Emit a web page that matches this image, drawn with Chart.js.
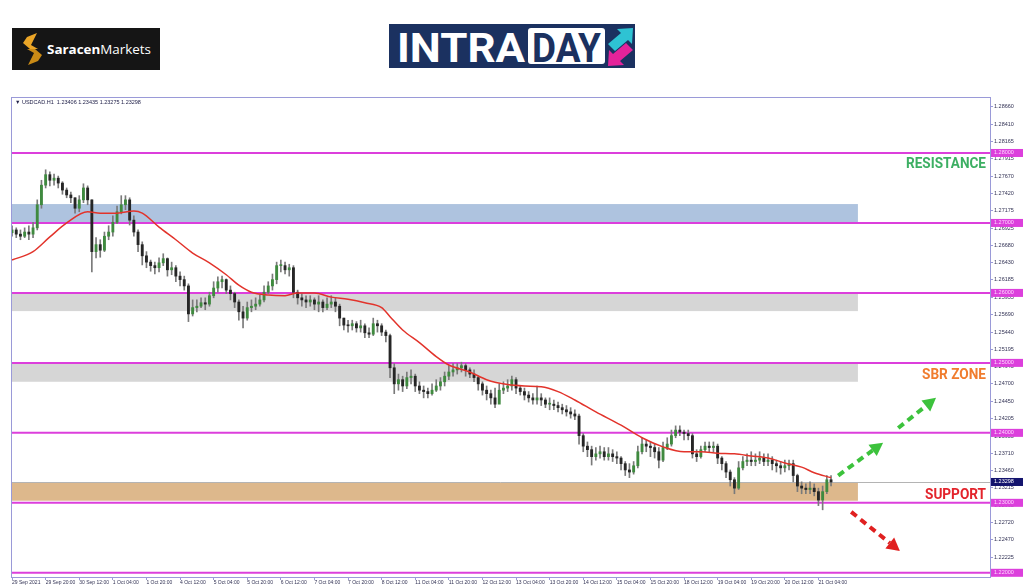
<!DOCTYPE html>
<html>
<head>
<meta charset="utf-8">
<script src="https://cdn.jsdelivr.net/npm/chart.js@4.4.0/dist/chart.umd.min.js"></script>
<style>
html, body { margin: 0; padding: 0; background: #fff; }
#wrap { position: relative; width: 1024px; height: 587px; overflow: hidden; }
#c { position: absolute; left: 0; top: 0; }
.logo { position: absolute; }
</style>
</head>
<body>
<div id="wrap">
<canvas id="c" width="1024" height="587"></canvas>

<svg class="logo" style="left:12px;top:28px" width="148" height="42" viewBox="0 0 148 42">
  <rect width="148" height="42" fill="#151515"/>
  <polygon points="15,9 25,5 19,17 26,21 18,21 11,15" fill="#eaa527"/>
  <polygon points="26,33 16,37 22,25 15,21 23,21 30,27" fill="#c98a16"/>
  <text x="35" y="26" fill="#fff" font-family="Open Sans" font-size="13" textLength="104" lengthAdjust="spacingAndGlyphs"><tspan font-weight="bold">Saracen</tspan>Markets</text>
</svg>

<svg class="logo" style="left:389px;top:24px" width="246" height="44" viewBox="0 0 246 44">
  <rect width="246" height="44" fill="#1b3160"/>
  <text x="8" y="38" fill="#fff" font-family="Roboto" font-weight="bold" font-size="40" textLength="128" lengthAdjust="spacingAndGlyphs">INTRA</text>
  <rect x="139" y="4" width="77" height="36" rx="3" fill="#fff"/>
  <text x="143" y="38" fill="#1b3160" font-family="Roboto" font-weight="bold" font-size="40" textLength="69" lengthAdjust="spacingAndGlyphs">DAY</text>
  <polygon points="219,20 232,9 228,5 244,4 243,20 239,16 226,27" fill="#2ec3d3"/>
  <polygon points="244,26 231,37 235,41 219,42 220,26 224,30 237,19" fill="#e3239a"/>
</svg>
</div>

<script>
// x labels, one every 8 bars (2h bars)
const xTickLabels = ['29 Sep 2021','29 Sep 20:00','30 Sep 12:00','1 Oct 04:00','1 Oct 20:00','4 Oct 12:00',
  '5 Oct 04:00','5 Oct 20:00','6 Oct 12:00','7 Oct 04:00','7 Oct 20:00','8 Oct 12:00','11 Oct 04:00',
  '11 Oct 20:00','12 Oct 12:00','13 Oct 04:00','13 Oct 20:00','14 Oct 12:00','15 Oct 04:00','15 Oct 20:00',
  '18 Oct 12:00','19 Oct 04:00','19 Oct 20:00','20 Oct 12:00','21 Oct 04:00'];

const yTicks = [1.28660,1.28410,1.28165,1.27915,1.27670,1.27420,1.27175,1.26925,1.26680,1.26430,1.26185,
  1.25935,1.25690,1.25440,1.25195,1.24945,1.24700,1.24450,1.24205,1.23955,1.23710,1.23460,1.23215,
  1.22965,1.22720,1.22470,1.22225];

const firstOpen = 1.2686;
const closes = [
  1.2690,1.2684,1.2681,1.2687,1.2684,1.2693,1.2726,1.2754,1.2769,1.2761,
  1.2764,1.2757,1.2747,1.2740,1.2736,1.2721,1.2733,1.2750,1.2733,1.2659,
  1.2669,1.2661,1.2681,1.2687,1.2701,1.2716,1.2726,1.2733,1.2704,1.2687,
  1.2669,1.2653,1.2644,1.2639,1.2636,1.2643,1.2649,1.2633,1.2636,1.2624,
  1.2619,1.2610,1.2570,1.2579,1.2581,1.2586,1.2584,1.2596,1.2607,1.2616,
  1.2619,1.2604,1.2599,1.2587,1.2573,1.2564,1.2579,1.2581,1.2584,1.2590,
  1.2601,1.2610,1.2619,1.2639,1.2639,1.2633,1.2636,1.2601,1.2593,1.2590,
  1.2587,1.2590,1.2584,1.2587,1.2579,1.2584,1.2587,1.2581,1.2564,1.2554,
  1.2553,1.2556,1.2550,1.2553,1.2543,1.2541,1.2556,1.2553,1.2544,1.2539,
  1.2493,1.2470,1.2476,1.2467,1.2479,1.2481,1.2467,1.2461,1.2459,1.2456,
  1.2461,1.2467,1.2473,1.2481,1.2487,1.2490,1.2493,1.2496,1.2490,1.2484,
  1.2479,1.2470,1.2461,1.2456,1.2450,1.2441,1.2461,1.2464,1.2467,1.2476,
  1.2464,1.2459,1.2454,1.2450,1.2447,1.2450,1.2447,1.2441,1.2441,1.2439,
  1.2436,1.2433,1.2430,1.2427,1.2424,1.2396,1.2381,1.2376,1.2366,1.2370,
  1.2373,1.2366,1.2370,1.2366,1.2364,1.2356,1.2347,1.2344,1.2353,1.2373,
  1.2384,1.2381,1.2379,1.2373,1.2361,1.2379,1.2384,1.2396,1.2404,1.2401,
  1.2399,1.2396,1.2370,1.2366,1.2376,1.2381,1.2379,1.2381,1.2364,1.2356,
  1.2344,1.2333,1.2321,1.2350,1.2359,1.2361,1.2359,1.2361,1.2364,1.2359,
  1.2361,1.2356,1.2353,1.2350,1.2353,1.2356,1.2339,1.2324,1.2321,1.2319,
  1.2321,1.2316,1.2304,1.2316,1.2333,1.23298];
const highs = [
  1.2696,1.2693,1.2690,1.2693,1.2696,1.2701,1.2733,1.2761,1.2776,1.2773,
  1.2770,1.2767,1.2759,1.2750,1.2744,1.2736,1.2739,1.2756,1.2753,1.2733,
  1.2679,1.2676,1.2687,1.2696,1.2710,1.2724,1.2739,1.2739,1.2736,1.2710,
  1.2690,1.2673,1.2659,1.2647,1.2644,1.2650,1.2656,1.2650,1.2644,1.2639,
  1.2630,1.2624,1.2613,1.2590,1.2590,1.2593,1.2593,1.2601,1.2616,1.2623,
  1.2624,1.2620,1.2610,1.2601,1.2590,1.2581,1.2587,1.2590,1.2593,1.2597,
  1.2610,1.2616,1.2627,1.2644,1.2647,1.2644,1.2641,1.2639,1.2604,1.2599,
  1.2596,1.2596,1.2593,1.2596,1.2590,1.2593,1.2596,1.2593,1.2584,1.2564,
  1.2561,1.2561,1.2559,1.2561,1.2556,1.2550,1.2564,1.2561,1.2556,1.2547,
  1.2541,1.2499,1.2484,1.2481,1.2487,1.2490,1.2484,1.2473,1.2467,1.2464,
  1.2470,1.2476,1.2479,1.2487,1.2496,1.2499,1.2499,1.2501,1.2499,1.2493,
  1.2490,1.2481,1.2473,1.2467,1.2461,1.2464,1.2470,1.2473,1.2476,1.2481,
  1.2479,1.2467,1.2464,1.2459,1.2456,1.2467,1.2456,1.2450,1.2450,1.2447,
  1.2444,1.2441,1.2439,1.2436,1.2433,1.2427,1.2399,1.2387,1.2381,1.2379,
  1.2381,1.2379,1.2379,1.2376,1.2373,1.2366,1.2359,1.2356,1.2359,1.2381,
  1.2393,1.2390,1.2387,1.2384,1.2379,1.2387,1.2393,1.2404,1.2410,1.2410,
  1.2404,1.2404,1.2399,1.2376,1.2381,1.2387,1.2387,1.2387,1.2384,1.2366,
  1.2359,1.2347,1.2336,1.2359,1.2366,1.2370,1.2373,1.2370,1.2373,1.2370,
  1.2370,1.2366,1.2361,1.2359,1.2361,1.2361,1.2361,1.2341,1.2330,1.2327,
  1.2330,1.2327,1.2321,1.2324,1.2339,1.2339];
const lows = [
  1.2681,1.2679,1.2676,1.2679,1.2676,1.2679,1.2690,1.2721,1.2750,1.2753,
  1.2754,1.2750,1.2741,1.2736,1.2729,1.2714,1.2716,1.2729,1.2726,1.2630,
  1.2650,1.2651,1.2659,1.2676,1.2681,1.2699,1.2713,1.2719,1.2697,1.2681,
  1.2659,1.2640,1.2636,1.2631,1.2627,1.2630,1.2639,1.2624,1.2626,1.2616,
  1.2610,1.2604,1.2559,1.2567,1.2573,1.2579,1.2576,1.2581,1.2593,1.2601,
  1.2607,1.2599,1.2590,1.2579,1.2561,1.2550,1.2561,1.2573,1.2576,1.2581,
  1.2587,1.2599,1.2604,1.2613,1.2630,1.2627,1.2624,1.2593,1.2584,1.2581,
  1.2579,1.2581,1.2576,1.2573,1.2573,1.2576,1.2579,1.2573,1.2553,1.2547,
  1.2544,1.2547,1.2544,1.2544,1.2536,1.2536,1.2539,1.2544,1.2539,1.2530,
  1.2479,1.2456,1.2461,1.2459,1.2463,1.2470,1.2459,1.2456,1.2450,1.2450,
  1.2454,1.2459,1.2461,1.2467,1.2476,1.2481,1.2484,1.2487,1.2481,1.2479,
  1.2473,1.2461,1.2454,1.2447,1.2441,1.2436,1.2444,1.2456,1.2459,1.2461,
  1.2456,1.2454,1.2447,1.2444,1.2441,1.2441,1.2439,1.2436,1.2433,1.2433,
  1.2430,1.2427,1.2424,1.2421,1.2419,1.2384,1.2373,1.2366,1.2354,1.2361,
  1.2364,1.2361,1.2361,1.2359,1.2356,1.2347,1.2339,1.2336,1.2341,1.2350,
  1.2370,1.2373,1.2366,1.2364,1.2350,1.2359,1.2376,1.2381,1.2393,1.2396,
  1.2390,1.2390,1.2364,1.2359,1.2364,1.2373,1.2373,1.2373,1.2356,1.2347,
  1.2336,1.2324,1.2313,1.2319,1.2347,1.2353,1.2353,1.2353,1.2356,1.2353,
  1.2353,1.2347,1.2344,1.2341,1.2344,1.2347,1.2330,1.2316,1.2313,1.2313,
  1.2313,1.2310,1.2296,1.2290,1.2313,1.2324];

// moving average, at these bar indexes
const maIdx = [0,5,9,13,18,21,25,29,31,35,39,43,47,51,54,57,61,65,68,72,76,80,84,88,90,
  93,97,101,104,109,113,118,122,126,130,134,139,145,150,155,160,164,168,172,176,180,184,188,191,195];
const maVal = [1.2647,1.2659,1.2680,1.2700,1.2716,1.2714,1.2714,1.2717,1.2714,1.2694,1.2676,1.2657,
  1.2643,1.2626,1.2611,1.2601,1.2597,1.2596,1.2600,1.2600,1.2594,1.2591,1.2586,1.2579,1.2566,
  1.2547,1.2529,1.2509,1.2497,1.2487,1.2476,1.2469,1.2467,1.2466,1.2459,1.2447,1.2430,1.2411,
  1.2393,1.2380,1.2373,1.2373,1.2371,1.2370,1.2367,1.2364,1.2357,1.2351,1.2343,1.2336];

const levels = [1.28, 1.27, 1.26, 1.25, 1.24, 1.23, 1.22];
const zoneLo = [1.2701, 1.2574, 1.2473, 1.2303];
const zoneHi = [1.2727, 1.2599, 1.2499, 1.2329];
const zoneEnd = 201.4;
const lastPrice = 1.23298;
const infoText = '\u25BC USDCAD.H1  1.23406 1.23435 1.23275 1.23298';

const notes = ['RESISTANCE', 'SBR ZONE', 'SUPPORT'];
const notePrices = [1.2784, 1.2483, 1.2311];
const arrowFrom = [[196.7, 1.2339], [211, 1.2407], [199.8, 1.2287]];
const arrowTo = [[207.4, 1.2386], [220, 1.2450], [211.4, 1.2231]];

const opens = [firstOpen].concat(closes.slice(0, -1));

const zoneColors = ['#aec3df', '#d6d6d6', '#d6d6d6', '#ddb88c'];
const noteColors = ['#3daf63', '#f07c2e', '#e3232b'];
const noteWidths = [80, 64, 61];
const arrowColors = ['#3cc23c', '#3cc23c', '#e02020'];
const axisColor = '#9a9ad8';
const magenta = '#dc3fdc';
const tickFont = {size: 5, family: 'Liberation Sans'};

function drawArrow(ctx, x1, y1, x2, y2, color) {
  const ang = Math.atan2(y2 - y1, x2 - x1);
  const head = 13;
  const bx = x2 - Math.cos(ang) * head, by = y2 - Math.sin(ang) * head;
  ctx.strokeStyle = color;
  ctx.lineWidth = 4;
  ctx.setLineDash([7, 5]);
  ctx.beginPath(); ctx.moveTo(x1, y1); ctx.lineTo(bx, by); ctx.stroke();
  ctx.setLineDash([]);
  ctx.fillStyle = color;
  ctx.beginPath();
  ctx.moveTo(x2, y2);
  ctx.lineTo(bx + Math.sin(ang) * 7, by - Math.cos(ang) * 7);
  ctx.lineTo(bx - Math.sin(ang) * 7, by + Math.cos(ang) * 7);
  ctx.closePath(); ctx.fill();
}

const overlay = {
  id: 'overlay',
  beforeDatasetsDraw(chart) {
    const {ctx, chartArea: a, scales: {x, y}} = chart;
    ctx.save();
    const xe = x.getPixelForValue(zoneEnd);
    zoneLo.forEach((lo, i) => {
      const t = y.getPixelForValue(zoneHi[i]), b = y.getPixelForValue(lo);
      ctx.fillStyle = zoneColors[i];
      ctx.fillRect(a.left, t, xe - a.left, b - t);
    });
    const py = Math.round(y.getPixelForValue(lastPrice)) + 0.5;
    ctx.strokeStyle = '#b4b4b4'; ctx.lineWidth = 1;
    ctx.beginPath(); ctx.moveTo(a.left, py); ctx.lineTo(a.right, py); ctx.stroke();
    ctx.strokeStyle = magenta; ctx.lineWidth = 2;
    levels.forEach(v => {
      const ly = y.getPixelForValue(v);
      ctx.beginPath(); ctx.moveTo(a.left, ly); ctx.lineTo(a.right, ly); ctx.stroke();
    });
    ctx.restore();
  },
  afterDraw(chart) {
    const {ctx, chartArea: a, scales: {x, y}} = chart;
    ctx.save();
    ctx.strokeStyle = axisColor; ctx.lineWidth = 1;
    ctx.strokeRect(a.left + 0.5, a.top + 0.5, a.right - a.left, a.bottom - a.top);

    // price boxes on the right axis
    ctx.font = '5.5px Liberation Sans';
    ctx.textBaseline = 'middle'; ctx.textAlign = 'left';
    levels.forEach(v => {
      const ly = y.getPixelForValue(v);
      ctx.fillStyle = magenta; ctx.fillRect(a.right + 1, ly - 4, 32, 8);
      ctx.fillStyle = '#ffd6ff'; ctx.fillText(v.toFixed(5), a.right + 4, ly);
    });
    const py = y.getPixelForValue(lastPrice);
    ctx.fillStyle = '#14146e'; ctx.fillRect(a.right + 1, py - 4, 32, 8);
    ctx.fillStyle = '#fff'; ctx.fillText(lastPrice.toFixed(5), a.right + 4, py);

    ctx.fillStyle = '#22224a';
    ctx.fillText(infoText, a.left + 4, a.top + 5);

    ctx.font = 'bold 15px Roboto';
    ctx.textAlign = 'right';
    notes.forEach((t, i) => {
      ctx.fillStyle = noteColors[i];
      ctx.fillText(t, a.right - 4, y.getPixelForValue(notePrices[i]), noteWidths[i]);
    });

    arrowFrom.forEach((f, i) => {
      drawArrow(ctx, x.getPixelForValue(f[0]), y.getPixelForValue(f[1]),
        x.getPixelForValue(arrowTo[i][0]), y.getPixelForValue(arrowTo[i][1]), arrowColors[i]);
    });
    ctx.restore();
  }
};

new Chart(document.getElementById('c'), {
  type: 'bar',
  data: {
    datasets: [
      {
        label: 'MA', type: 'line',
        data: maIdx.map((j, k) => ({x: j, y: maVal[k]})),
        borderColor: '#e2332b', borderWidth: 1.5, pointRadius: 0,
        cubicInterpolationMode: 'monotone', order: 0
      },
      {
        label: 'Body',
        data: closes.map((c, i) => ({x: i, y: [opens[i], c]})),
        backgroundColor: c => (c.raw && c.raw.y[1] >= c.raw.y[0]) ? '#3f8a3f' : '#262626',
        barThickness: 2.2, minBarLength: 1, grouped: false, order: 1
      },
      {
        label: 'Wick',
        data: lows.map((l, i) => ({x: i, y: [l, highs[i]]})),
        backgroundColor: '#7a7a7a',
        barThickness: 1, grouped: false, order: 2
      }
    ]
  },
  options: {
    responsive: false,
    animation: false,
    layout: {padding: {top: 97, left: 11, right: 0, bottom: 0}},
    plugins: {legend: {display: false}, tooltip: {enabled: false}},
    scales: {
      x: {
        type: 'linear', min: -0.25, max: 232.85, offset: false,
        grid: {display: true, drawOnChartArea: false, tickLength: 3, color: axisColor, offset: false},
        border: {color: axisColor},
        ticks: {
          autoSkip: false, maxRotation: 0, minRotation: 0, align: 'start', padding: 0,
          color: '#333355', font: tickFont,
          callback: v => xTickLabels[Math.round(v / 8)]
        },
        afterBuildTicks: s => { s.ticks = xTickLabels.map((_, k) => ({value: k * 8})); },
        afterFit: s => { s.height = 10; }
      },
      y: {
        type: 'linear', position: 'right', min: 1.2194, max: 1.288,
        grid: {display: true, drawOnChartArea: false, tickLength: 3, color: axisColor},
        border: {color: axisColor},
        ticks: {
          padding: 1, color: '#333355', font: {size: 5.5, family: 'Liberation Sans'},
          callback: v => v.toFixed(5)
        },
        afterBuildTicks: s => { s.ticks = yTicks.map(v => ({value: v})); },
        afterFit: s => { s.width = 34; }
      }
    }
  },
  plugins: [overlay]
});
</script>
</body>
</html>
